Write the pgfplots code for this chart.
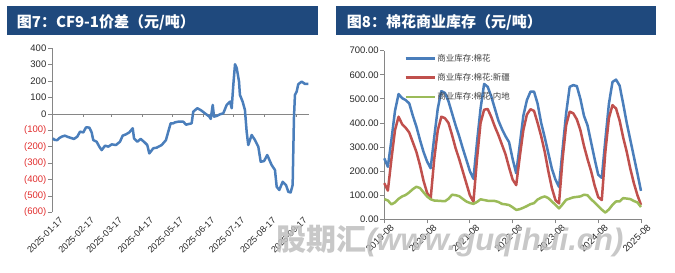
\documentclass[border=0pt]{standalone}
\usepackage{pgfplots}
\pgfplotsset{compat=1.18}
\usepackage{fontspec}
\setmainfont{Liberation Sans}
\newfontfamily\cjk{Noto Sans CJK SC}
\definecolor{titlebg}{RGB}{31,73,125}
\definecolor{sblue}{RGB}{74,126,187}
\definecolor{sred}{RGB}{192,80,77}
\definecolor{sgreen}{RGB}{155,187,89}
\definecolor{axgray}{RGB}{134,134,134}
\definecolor{tickred}{RGB}{225,45,45}
\definecolor{labtext}{RGB}{40,40,40}
\definecolor{legtext}{RGB}{64,64,64}
\definecolor{wmgray}{RGB}{190,190,190}
\begin{document}
\begin{tikzpicture}
\path[use as bounding box] (0,0) rectangle (675bp,273bp);
% title bars
\fill[titlebg] (6.7bp,238bp) rectangle (318bp,267bp);
\node[anchor=west,text=white,inner sep=0pt] at (16.7bp,251bp) {\cjk\bfseries\fontsize{15bp}{18bp}\selectfont 图7：CF9-1价差（元/吨）};
\fill[titlebg] (336bp,238bp) rectangle (656bp,267bp);
\node[anchor=west,text=white,inner sep=0pt] at (346.7bp,251bp) {\cjk\bfseries\fontsize{15bp}{18bp}\selectfont 图8：棉花商业库存（元/吨）};

% left chart
\begin{axis}[
  at={(52bp,60.5bp)}, anchor=south west,
  scale only axis, width=257bp, height=164.2bp,
  xmin=0, xmax=256, ymin=-600, ymax=400,
  axis y line*=left, axis x line*=bottom,
  x axis line style={draw=none},
  y axis line style={axgray, line width=0.8bp},
  xtick={0,31,59,90,120,151,181,212,243},
  xticklabels={2025-01-17,2025-02-17,2025-03-17,2025-04-17,2025-05-17,2025-06-17,2025-07-17,2025-08-17,2025-09-17},
  x tick style={draw=none},
  x tick label style={rotate=45, anchor=north east, font=\fontsize{9bp}{10bp}\selectfont, text=labtext, inner sep=1bp, xshift=6bp, yshift=-4bp},
  ytick={-600,-500,-400,-300,-200,-100,0,100,200,300,400},
  yticklabels={\textcolor{tickred}{(600)},\textcolor{tickred}{(500)},\textcolor{tickred}{(400)},\textcolor{tickred}{(300)},\textcolor{tickred}{(200)},\textcolor{tickred}{(100)},0,100,200,300,400},
  y tick style={axgray, line width=0.8bp},
  tick align=outside, major tick length=4bp,
  y tick label style={font=\fontsize{9.5bp}{11bp}\selectfont, text=labtext, inner sep=1.5bp},
  clip=false,
]
\draw[axgray, line width=0.8bp] (axis cs:0,0) -- (axis cs:256,0);
\pgfplotsinvokeforeach{31,59,90,120,151,181,212,243}{\draw[axgray, line width=0.8bp] (axis cs:#1,0) -- ([yshift=-3.5bp]axis cs:#1,0);}
\addplot[sblue, line width=2.5bp, line join=round] coordinates {
(0.8,-148)(2.5,-158)(5.3,-159)(7.5,-146)(9.7,-138)(12.9,-132)(15.5,-139)(17.9,-144)(21.9,-152)(25.2,-138)(27.9,-108)(31.2,-112)(33.9,-81)(37.2,-83)(39.5,-112)(41.1,-159)(44.5,-169)(47.1,-199)(49.5,-220)(52.8,-193)(56.1,-199)(59.5,-185)(63.7,-189)(67.7,-169)(70.4,-132)(73.7,-124)(77.0,-112)(80.4,-87)(81.7,-148)(85.0,-169)(88.3,-152)(91.6,-169)(94.9,-189)(96.9,-240)(100.9,-209)(104.3,-205)(109.3,-189)(113.5,-159)(115.8,-108)(118.2,-57)(120.8,-57)(122.5,-51)(125.8,-47)(130.8,-47)(133.5,-65)(139.1,-57)(140.7,14)(144.7,35)(148.1,24)(152.4,4)(156.7,-16)(158.1,-30)(160.1,55)(161.4,-16)(164.0,-12)(167.3,-2)(170.6,4)(174.0,55)(177.3,75)(179.0,35)(180.6,177)(182.3,303)(184.0,280)(186.3,197)(187.2,116)(189.9,75)(192.2,24)(193.9,-108)(195.5,-189)(198.9,-128)(202.2,-159)(205.5,-199)(207.9,-291)(211.2,-287)(214.4,-250)(218.8,-311)(222.1,-341)(223.8,-443)(226.4,-463)(229.8,-413)(233.1,-433)(235.4,-474)(237.7,-478)(239.7,-433)(241.0,-26)(242.0,116)(243.7,136)(245.3,181)(248.7,197)(252.0,183)(255.3,183)
};
\end{axis}

% right chart
\begin{axis}[
  at={(384.3bp,53.7bp)}, anchor=south west,
  scale only axis, width=256.7bp, height=168.6bp,
  xmin=0, xmax=72, ymin=0, ymax=700,
  axis y line*=left, axis x line*=bottom,
  axis line style={axgray, line width=0.8bp},
  xtick={0,12,24,36,48,60,72},
  xticklabels={2019-08,2020-08,2021-08,2022-08,2023-08,2024-08,2025-08},
  ytick={0,100,...,700},
  tick style={axgray, line width=0.8bp},
  tick align=outside, major tick length=4bp,
  x tick label style={rotate=45, anchor=north east, font=\fontsize{9.5bp}{11bp}\selectfont, text=labtext, inner sep=1bp, xshift=5bp, yshift=-3bp},
  y tick label style={font=\fontsize{9.5bp}{11bp}\selectfont, text=labtext, inner sep=1.5bp},
  /pgf/number format/.cd, fixed, fixed zerofill, precision=2, assume math mode=true,
  /pgfplots/.cd,
  legend style={at={(rel axis cs:0.077,0.99)}, anchor=north west, draw=none, fill=none,
    font=\cjk\fontsize{8.5bp}{10bp}\selectfont, text=legtext, row sep=7.5bp, inner sep=0pt,
    nodes={inner sep=1.5bp}},
  legend cell align=left,
  legend image code/.code={\draw[#1] (0bp,0bp) -- (29bp,0bp);},
  clip=false,
]
\addplot[sblue, line width=2.5bp, line join=round] coordinates {
(0,253)(1,218)(2,330)(3,450)(4,520)(5,503)(6,495)(7,481)(8,430)(9,385)(10,330)(11,280)(12,240)(13,212)(14,340)(15,460)(16,532)(17,525)(18,490)(19,440)(20,390)(21,345)(22,295)(23,248)(24,200)(25,168)(26,320)(27,460)(28,562)(29,550)(30,510)(31,460)(32,410)(33,375)(34,345)(35,320)(36,250)(37,191)(38,310)(39,430)(40,495)(41,530)(42,530)(43,480)(44,400)(45,340)(46,275)(47,210)(48,165)(49,135)(50,290)(51,440)(52,550)(53,557)(54,553)(55,500)(56,430)(57,390)(58,320)(59,250)(60,185)(61,172)(62,330)(63,480)(64,570)(65,580)(66,555)(67,480)(68,400)(69,330)(70,260)(71,190)(72,118)
};
\addlegendentry{商业库存:棉花}
\addplot[sred, line width=2.5bp, line join=round] coordinates {
(0,150)(1,119)(2,250)(3,370)(4,426)(5,395)(6,380)(7,360)(8,320)(9,280)(10,225)(11,160)(12,110)(13,85)(14,250)(15,370)(16,426)(17,420)(18,400)(19,350)(20,295)(21,250)(22,200)(23,150)(24,100)(25,73)(26,250)(27,400)(28,455)(29,458)(30,425)(31,385)(32,350)(33,310)(34,270)(35,215)(36,165)(37,142)(38,260)(39,370)(40,435)(41,457)(42,450)(43,400)(44,345)(45,280)(46,200)(47,130)(48,80)(49,66)(50,250)(51,390)(52,447)(53,440)(54,415)(55,370)(56,305)(57,250)(58,200)(59,140)(60,92)(61,80)(62,280)(63,420)(64,474)(65,460)(66,410)(67,340)(68,280)(69,210)(70,150)(71,100)(72,60)
};
\addlegendentry{商业库存:棉花:新疆}
\addplot[sgreen, line width=2.5bp, line join=round] coordinates {
(0,84)(1,78)(2,62)(3,70)(4,85)(5,95)(6,101)(7,112)(8,125)(9,135)(10,130)(11,112)(12,95)(13,83)(14,78)(15,77)(16,76)(17,75)(18,85)(19,102)(20,100)(21,96)(22,85)(23,74)(24,68)(25,64)(26,72)(27,83)(28,80)(29,77)(30,76)(31,76)(32,72)(33,64)(34,62)(35,59)(36,50)(37,39)(38,42)(39,48)(40,55)(41,63)(42,67)(43,82)(44,90)(45,95)(46,88)(47,74)(48,60)(49,45)(50,62)(51,81)(52,86)(53,91)(54,93)(55,95)(56,102)(57,100)(58,83)(59,70)(60,55)(61,40)(62,28)(63,41)(64,60)(65,74)(66,74)(67,88)(68,86)(69,84)(70,76)(71,70)(72,51)
};
\addlegendentry{商业库存:棉花:内地}
\end{axis}

% watermark
\node[anchor=base west, text=wmgray, opacity=0.85, inner sep=0pt] at (276bp,23bp)
  {{\cjk\bfseries\fontsize{30bp}{30bp}\selectfont 股期汇}{\bfseries\itshape\fontsize{31bp}{31bp}\selectfont (www.guqihui.cn)}};
\end{tikzpicture}
\end{document}
